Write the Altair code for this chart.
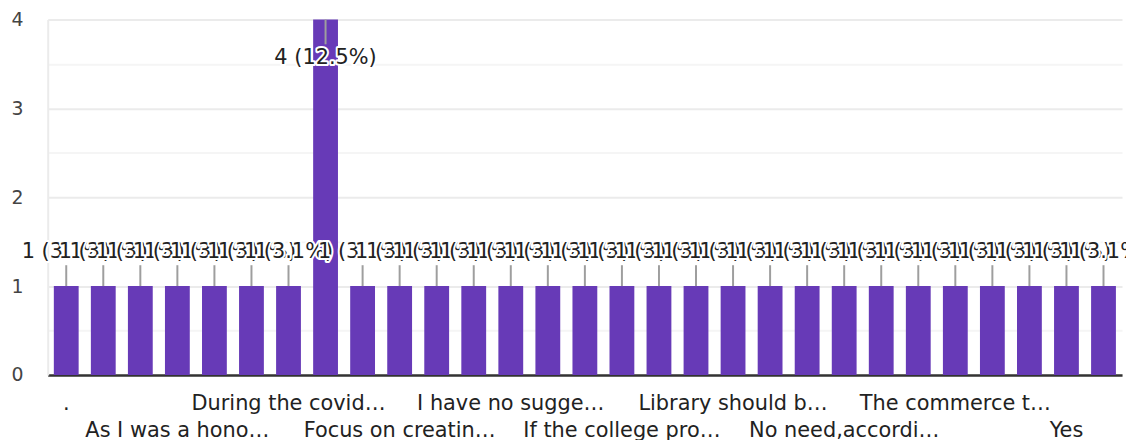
import altair as alt
import pandas as pd

# ---- data ----
counts = [1, 1, 1, 1, 1, 1, 1, 4, 1, 1, 1, 1, 1, 1, 1, 1, 1, 1, 1, 1, 1, 1, 1, 1, 1, 1, 1, 1, 1]
labels = [".", "", "", "As I was a hono…", "", "", "During the covid…", "", "",
          "Focus on creatin…", "", "", "I have no sugge…", "", "", "If the college pro…", "", "",
          "Library should b…", "", "", "No need,accordi…", "", "", "The commerce t…", "", "",
          "Yes", ""]
y_ticks = [0, 0.5, 1, 1.5, 2, 2.5, 3, 3.5, 4]

FONT = "DejaVu Sans"
BAR = "#673ab7"

df = pd.DataFrame({"i": list(range(len(counts))), "count": counts, "label": labels})

base = alt.Chart(df).transform_joinaggregate(
    total="sum(count)", maxc="max(count)"
).transform_calculate(
    txt="datum.count + ' (' + (floor(datum.count / datum.total * 1000) / 10) + '%)'"
)

X = alt.X("i:O", title=None,
          scale=alt.Scale(paddingInner=0.33, paddingOuter=0.165),
          axis=alt.Axis(labels=False, ticks=False, grid=False, domainColor="#333333",
                        domainWidth=2.5))
Y = alt.Y("count:Q", title=None,
          scale=alt.Scale(domain=[0, 4], nice=False, zero=True),
          axis=alt.Axis(values=y_ticks, ticks=False, domainColor="#ebebeb", domainWidth=2,
                        labelFont=FONT, labelFontSize=19, labelColor="#444444",
                        labelPadding=25,
                        labelExpr="datum.value % 1 == 0 ? format(datum.value, 'd') : ''",
                        gridColor={"condition": {"test": "datum.value % 1 == 0", "value": "#ebebeb"},
                                   "value": "#f5f5f5"},
                        gridWidth=2))

bars = base.mark_bar(color=BAR).encode(x=X, y=Y)

stem_small = base.transform_filter("datum.count < datum.maxc").mark_rule(
    color="#9e9e9e", strokeWidth=2, y2Offset=-21
).encode(x=X, y=Y, y2=alt.Y2("count:Q"))
stem_big = base.transform_filter("datum.count == datum.maxc").mark_rule(
    color="#9e9e9e", strokeWidth=2, y2Offset=25
).encode(x=X, y=Y, y2=alt.Y2("count:Q"))

layers = [bars, stem_small, stem_big]
mx = max(counts)
for i in range(len(counts)):
    dy = -28.5 if counts[i] < mx else 45
    sub = base.transform_filter(f"datum.i == {i}")
    halo = sub.mark_text(font=FONT, fontSize=21, baseline="alphabetic", dy=dy,
                         fill="white", stroke="white", strokeWidth=4, strokeJoin="round"
                         ).encode(x=X, y=Y, text="txt:N")
    txt = sub.mark_text(font=FONT, fontSize=21, baseline="alphabetic", dy=dy,
                        fill="#222222").encode(x=X, y=Y, text="txt:N")
    layers += [halo, txt]

lab = base.transform_filter("datum.label != ''").transform_window(
    rn="row_number()", sort=[alt.SortField("i")]
)
row1 = lab.transform_filter("datum.rn % 2 == 1").mark_text(
    font=FONT, fontSize=21, baseline="alphabetic", fill="#222222"
).encode(x=X, y=alt.value(393), text="label:N")
row2 = lab.transform_filter("datum.rn % 2 == 0").mark_text(
    font=FONT, fontSize=21, baseline="alphabetic", fill="#222222"
).encode(x=X, y=alt.value(421), text="label:N")
layers += [row1, row2]

chart = alt.layer(*layers).properties(
    width=1082, height=358,
    padding={"left": 40, "top": 10, "right": 4, "bottom": 64},
    autosize=alt.AutoSizeParams(type="none"),
    background="white",
).configure_view(stroke=None)

chart.save("out.html", embed_options={"renderer": "svg", "actions": False})
